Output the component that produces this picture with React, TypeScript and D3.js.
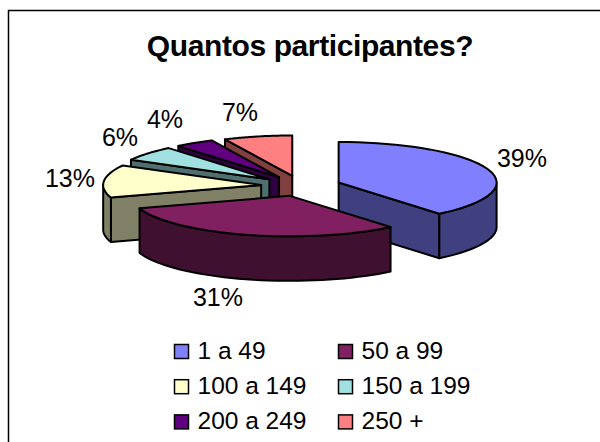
import React from "react";
import * as d3 from "d3";

const categories = ["1 a 49", "50 a 99", "100 a 149", "150 a 199", "200 a 249", "250 +"];
const values = [39, 31, 13, 6, 4, 7];
const explode = [40, 40, 40, 41, 41, 40];
const topColors = ["#8080ff", "#802060", "#ffffcc", "#a0e0e0", "#600080", "#ff8080"];
const sideColors = ["#404080", "#401030", "#808066", "#507070", "#300040", "#804040"];
const title = "Quantos participantes?";

const width = 600;
const height = 442;
const cx = 301;
const cy = 186;
const rx = 158;
const ry = 40.5;
const depth = 44.5;
const tilt = ry / rx;

// back to front, the dark purple slice has to sit over the blue one
const drawOrder = [5, 4, 3, 2, 0, 1];
const labelPos = [
  [522, 167],
  [218, 306],
  [70, 187],
  [120, 146],
  [165, 128],
  [240, 121],
];

const pie = d3.pie<number>().sort(null).value((d) => d);

const App = () => {
  const arcs = pie(values);

  const line = d3.line();

  const slices = arcs.map((a, idx) => {
    const mid = (a.startAngle + a.endAngle) / 2;
    const ox = cx + explode[idx] * Math.sin(mid);
    const oy = cy - explode[idx] * tilt * Math.cos(mid);
    const rim = (t: number): [number, number] => [ox + rx * Math.sin(t), oy - ry * Math.cos(t)];
    const angles = d3.range(0, 41).map((i) => a.startAngle + ((a.endAngle - a.startAngle) * i) / 40);
    const rimPts = angles.map(rim);
    const top = line([[ox, oy], ...rimPts]) + "Z";

    // outer wall, only the part facing the viewer
    const front = angles.filter((t) => Math.cos(t) <= 0).map(rim);
    const outer =
      front.length > 1
        ? line([...front, ...front.slice().reverse().map(([x, y]) => [x, y + depth] as [number, number])]) + "Z"
        : null;

    // cut faces seen from the front
    const wall = (t: number) => {
      const p = rim(t);
      return line([[ox, oy], p, [p[0], p[1] + depth], [ox, oy + depth]]) + "Z";
    };
    const walls: string[] = [];
    if (Math.sin(a.startAngle) < 0) walls.push(wall(a.startAngle));
    if (Math.sin(a.endAngle) > 0) walls.push(wall(a.endAngle));
    return { top, outer, walls };
  });

  return (
    <svg
      width={width}
      height={height}
      style={{ position: "absolute", left: 0, top: 0, fontFamily: "'Liberation Sans', Arial, sans-serif" }}
    >
      <rect width={width} height={height} fill="#fff" />
      <path d="M8.5,442V10.5H600" fill="none" stroke="#000" strokeWidth={1.5} />
      <text x={310} y={56} textAnchor="middle" fontSize={30} fontWeight="bold" letterSpacing={-0.4}>
        {title}
      </text>
      {drawOrder.map((i) => (
        <g key={i} stroke="#000" strokeWidth={2} strokeLinejoin="round">
          {slices[i].walls.map((d, j) => (
            <path key={j} d={d} fill={sideColors[i]} />
          ))}
          {slices[i].outer && <path d={slices[i].outer!} fill={sideColors[i]} />}
          <path d={slices[i].top} fill={topColors[i]} />
        </g>
      ))}
      {values.map((v, i) => (
        <text key={i} x={labelPos[i][0]} y={labelPos[i][1]} textAnchor="middle" fontSize={25}>
          {v}%
        </text>
      ))}
      {categories.map((c, i) => {
        const col = i % 2;
        const row = Math.floor(i / 2);
        const x = 174.5 + col * 164;
        const y = 351.5 + row * 35.2;
        return (
          <g key={c}>
            <rect x={x} y={y - 7} width={14} height={14} fill={topColors[i]} stroke="#000" strokeWidth={1.5} />
            <text x={x + 23} y={y + 7} fontSize={24.5}>
              {c}
            </text>
          </g>
        );
      })}
    </svg>
  );
};

export default App;
